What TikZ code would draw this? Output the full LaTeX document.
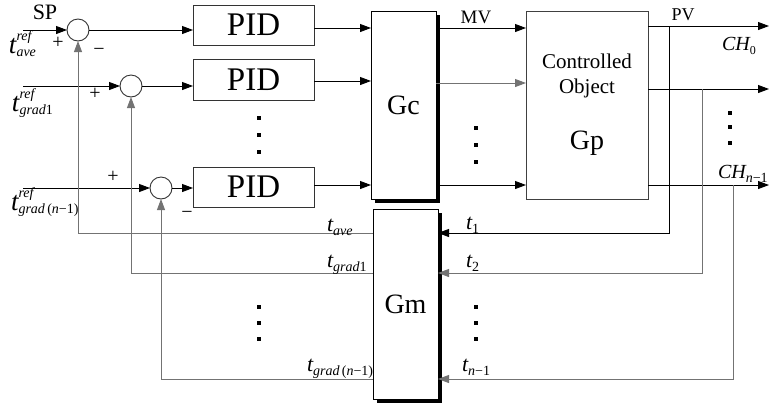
\documentclass[tikz,border=0pt]{standalone}
\usepackage{fontspec}
\setmainfont{Liberation Serif}
\newfontfamily\tnr{Liberation Serif}
\usetikzlibrary{arrows.meta,shadows,calc}
\newcommand\fs[1]{\tnr\fontsize{#1}{#1}\selectfont}
\newcommand\supsub[3]{\makebox[0pt][l]{\raisebox{#3}{#1}}\raisebox{-3pt}{#2}}
\newcommand\subonly[1]{\raisebox{-4pt}{#1}}
\begin{document}
\begin{tikzpicture}[x=1pt,y=-1pt,
  every node/.style={inner sep=0pt, outer sep=0pt},
  ln/.style={line width=0.9pt},
  arr/.style={ln,-{Triangle[length=11pt,width=8pt]}},
  fb/.style={draw=black!55},
  pidbox/.style={draw=black!80, line width=0.9pt, minimum width=121pt, minimum height=40pt, font=\fs{33}},
  sumc/.style={circle, draw=black!80, line width=0.9pt, minimum size=22pt},
  bigbox/.style={draw, line width=0.9pt, fill=white, font=\fs{28}},
  shad/.style={drop shadow={shadow xshift=4pt, shadow yshift=-4pt, fill=black, opacity=1}},
  dotsq/.style={fill=black, minimum size=4.5pt, inner sep=0pt}
]
\useasboundingbox (0,0) rectangle (770,408);
% summing junctions
\node[sumc] (s1) at (78,30) {};
\node[sumc] (s2) at (131,86) {};
\node[sumc] (s3) at (161,188) {};
% PID boxes
\node[pidbox] (p1) at (253.5,25) {PID};
\node[pidbox, minimum height=41pt] (p2) at (253.5,80) {PID};
\node[pidbox] (p3) at (253.5,187) {PID};
% big blocks
\node[bigbox, shad, minimum width=65pt, minimum height=188pt] (gc) at (403.5,105) {Gc};
\node[bigbox, draw=black!75, minimum width=122pt, minimum height=188pt] (gp) at (587,105) {};
\node[font=\tnr\fontsize{21}{25}\selectfont, align=center] (gptxt) at (587,76) {Controlled\\Object};
\node[font=\fs{28}] (gplab) at (587,143) {Gp};
\node[bigbox, shad, minimum width=65pt, minimum height=190pt] (gm) at (405.5,304) {Gm};
% level coordinates
\coordinate (in1) at (23,30);
\coordinate (in2) at (23,86);
\coordinate (in3) at (23,188);
\coordinate (ya) at (0,28);
\coordinate (yb) at (0,81);
\coordinate (yc) at (0,185);
\coordinate (ym2) at (0,83);
\coordinate (c1) at (669,26);
\coordinate (c2) at (702,89);
\coordinate (c3) at (733,185);
\coordinate (o1) at (769,26);
\coordinate (o2) at (769,89);
\coordinate (o3) at (769,185);
\coordinate (yt1) at (0,233);
\coordinate (yt2) at (0,273);
\coordinate (yt3) at (0,379);
% inputs
\draw[arr] (in1) -- (s1);
\draw[arr] (in2) -- (s2);
\draw[arr] (in3) -- (s3);
\draw[arr] (s1) -- (s1 -| p1.west);
\draw[arr] (s2) -- (s2 -| p2.west);
\draw[arr] (s3) -- (s3 -| p3.west);
% PID -> Gc
\draw[arr] (p1.east |- ya) -- (gc.west |- ya);
\draw[arr] (p2.east |- yb) -- (gc.west |- yb);
\draw[arr] (p3.east |- yc) -- (gc.west |- yc);
% Gc -> Gp (MV)
\draw[arr] (gc.east |- ya) -- (gp.west |- ya);
\draw[arr, fb] (gc.east |- ym2) -- (gp.west |- ym2);
\draw[arr] (gc.east |- yc) -- (gp.west |- yc);
% Gp outputs (PV)
\draw[arr] (gp.east |- o1) -- (o1);
\draw[arr] (gp.east |- o2) -- (o2);
\draw[arr] (gp.east |- o3) -- (o3);
% measurement feedback into Gm
\draw[arr] (c1) |- (gm.east |- yt1);
\draw[arr, fb] (c2) |- (gm.east |- yt2);
\draw[arr, fb] (c3) |- (gm.east |- yt3);
% Gm outputs back to summing junctions
\draw[arr, fb] (gm.west |- yt1) -| (s1);
\draw[arr, fb] (gm.west |- yt2) -| (s2);
\draw[arr, fb] (gm.west |- yt3) -| (s3);
% labels
\node[font=\fs{22}] (sp) at (45,12) {SP};
\node[anchor=base west] (r1) at (9,53) {{\fs{27}\itshape t}{\fs{14}\itshape\supsub{ref}{ave}{13pt}}};
\node[anchor=base west] (r2) at (12,111) {{\fs{27}\itshape t}{\fs{14}\itshape\supsub{ref}{grad\upshape1}{13pt}}};
\node[anchor=base west] (r3) at (11,210) {{\fs{27}\itshape t}{\fs{14}\itshape\supsub{ref}{grad\upshape\,(\itshape n\upshape −1)}{13pt}}};
\node[font=\fs{20}] (pl1) at (58,43) {+};
\node[font=\fs{20}] (mi1) at (99,52) {−};
\node[font=\fs{20}] (pl2) at (95,94) {+};
\node[font=\fs{20}] (pl3) at (113,177) {+};
\node[font=\fs{20}] (mi3) at (187,215) {−};
\node[font=\fs{19}] (mv) at (476,17) {MV};
\node[font=\fs{18}] (pv) at (683,15) {PV};
\node[anchor=base west] (ch0) at (722,50) {{\fs{20}\itshape CH}{\fs{12}\subonly{0}}};
\node[anchor=base west] (chn) at (718,178) {{\fs{20}\itshape CH}{\fs{14}\subonly{\itshape n\upshape −1}}};
\node[anchor=base west] (tave) at (327,231) {{\fs{22}\itshape t}{\fs{14}\itshape\subonly{ave}}};
\node[anchor=base west] (tg1) at (327,267) {{\fs{22}\itshape t}{\fs{14}\itshape\subonly{grad\upshape1}}};
\node[anchor=base west] (tgn) at (307,371) {{\fs{22}\itshape t}{\fs{14}\itshape\subonly{grad\upshape\,(\itshape n\upshape −1)}}};
\node[anchor=base west] (t1) at (466,229) {{\fs{22}\itshape t}{\fs{14}\subonly{1}}};
\node[anchor=base west] (t2) at (466,267) {{\fs{22}\itshape t}{\fs{14}\subonly{2}}};
\node[anchor=base west] (tn) at (462,371) {{\fs{22}\itshape t}{\fs{14}\subonly{\itshape n\upshape −1}}};
% vertical ellipsis dots
\foreach \x/\ya/\yb/\yc in {259/118/135/152, 476/128/145/162, 730/113/127/143, 259/307/323/339, 476/307/323/339}{
  \node[dotsq] at (\x,\ya) {};
  \node[dotsq] at (\x,\yb) {};
  \node[dotsq] at (\x,\yc) {};
}
\end{tikzpicture}
\end{document}
